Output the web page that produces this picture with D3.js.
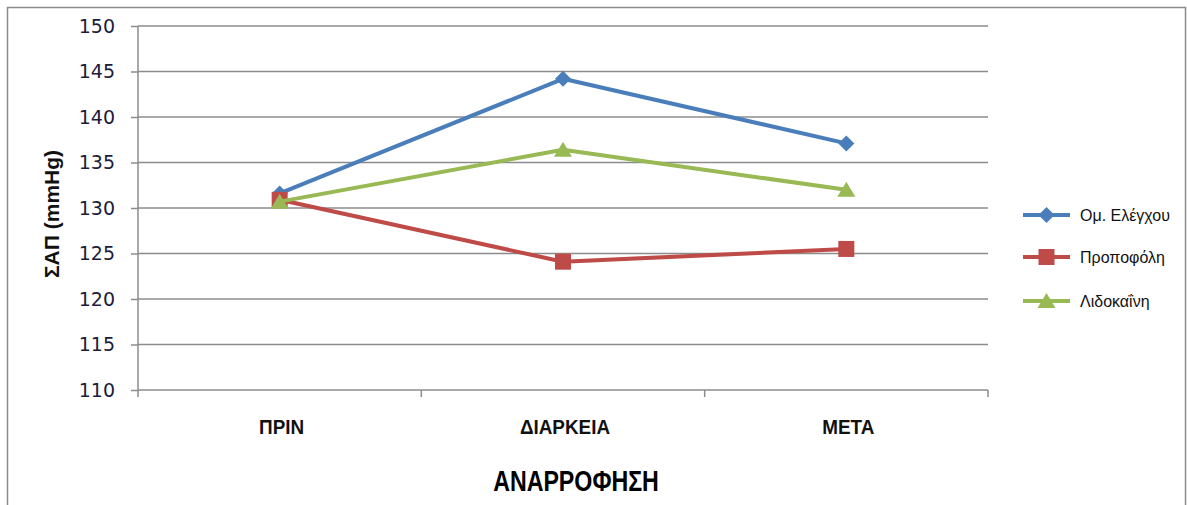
<!DOCTYPE html>
<html>
<head>
<meta charset="utf-8">
<script src="https://cdn.jsdelivr.net/npm/d3@7"></script>
<style>
  html, body { margin: 0; padding: 0; background: #fff; }
  svg { display: block; }
</style>
</head>
<body>
<svg id="chart" width="1187" height="505"></svg>
<script>
// Systolic arterial pressure across the three phases of suction
const categories = ["ΠΡΙΝ", "ΔΙΑΡΚΕΙΑ", "ΜΕΤΑ"];
const seriesNames = ["Ομ. Ελέγχου", "Προποφόλη", "Λιδοκαΐνη"];
const controlValues = [131.6, 144.2, 137.1];
const propofolValues = [130.9, 124.1, 125.5];
const lidocaineValues = [130.7, 136.4, 132.0];
const yTicks = [110, 115, 120, 125, 130, 135, 140, 145, 150];
const yTitle = "ΣΑΠ (mmHg)";
const xTitle = "ΑΝΑΡΡΟΦΗΣΗ";

const series = [
  { name: seriesNames[0], values: controlValues, color: "#4a7ebb", symbol: "diamond" },
  { name: seriesNames[1], values: propofolValues, color: "#be4b48", symbol: "square" },
  { name: seriesNames[2], values: lidocaineValues, color: "#98b954", symbol: "triangle" }
];

const FONT = "'Liberation Sans', Arial, sans-serif";
const svg = d3.select("#chart");
const margin = { left: 138, top: 26, right: 988, bottom: 390 };

// condensed text: horizontally squeezed sans
function narrowText(parent, x, y, size, squeeze, txt, weight, anchor) {
  return parent.append("text")
    .attr("transform", `translate(${x},${y}) scale(${squeeze},1)`)
    .attr("text-anchor", anchor || "middle")
    .attr("font-family", FONT)
    .attr("font-size", size)
    .attr("font-weight", weight || "bold")
    .attr("fill", "#111")
    .text(txt);
}

// outer frame
svg.append("rect")
  .attr("x", 7.5).attr("y", 7.5)
  .attr("width", 1178).attr("height", 510)
  .attr("fill", "#fff").attr("stroke", "#8c8c8c").attr("stroke-width", 1.5);

const x = d3.scaleBand().domain(categories).range([margin.left, margin.right]);
const y = d3.scaleLinear().domain([110, 150]).range([margin.bottom, margin.top]);

// horizontal gridlines
svg.append("g").selectAll("line").data(yTicks.filter(t => t !== 110)).join("line")
  .attr("x1", margin.left).attr("x2", margin.right)
  .attr("y1", d => y(d)).attr("y2", d => y(d))
  .attr("stroke", "#8c8c8c").attr("stroke-width", 1.5);

// y axis
const yAxis = svg.append("g")
  .attr("transform", `translate(${margin.left},0)`)
  .call(d3.axisLeft(y).tickValues(yTicks).tickSize(7).tickPadding(16).tickFormat(d3.format("d")));
yAxis.select(".domain").attr("stroke", "#8c8c8c").attr("stroke-width", 1.5).attr("d", `M0,${margin.top}V${margin.bottom + 1}`);
yAxis.selectAll(".tick line").attr("stroke", "#8c8c8c").attr("stroke-width", 1.5);
yAxis.selectAll(".tick text")
  .attr("font-family", "'DejaVu Sans', Verdana, sans-serif")
  .attr("font-size", 19).attr("fill", "#1c1c3a");

// x axis with ticks at category boundaries
const xAxis = svg.append("g").attr("transform", `translate(0,${margin.bottom})`);
xAxis.append("line")
  .attr("x1", margin.left).attr("x2", margin.right)
  .attr("stroke", "#8c8c8c").attr("stroke-width", 1.5);
const bounds = categories.map(c => x(c)).concat([margin.right]);
xAxis.selectAll("line.tk").data(bounds).join("line").attr("class", "tk")
  .attr("x1", d => d).attr("x2", d => d).attr("y1", 0).attr("y2", 7)
  .attr("stroke", "#8c8c8c").attr("stroke-width", 1.5);
categories.forEach(c => {
  narrowText(xAxis, x(c) + x.bandwidth() / 2 + 2, 44, 21, 0.9, c);
});

// axis titles
narrowText(svg, 576, 491, 29, 0.8, xTitle).attr("fill", "#000");
svg.append("text")
  .attr("transform", "translate(59,214) rotate(-90)")
  .attr("text-anchor", "middle")
  .attr("font-family", FONT)
  .attr("font-size", 21).attr("font-weight", "bold").attr("fill", "#111")
  .text(yTitle);

// marker shapes
const markerPath = {
  diamond: "M0,-8L8,0L0,8L-8,0Z",
  square: "M-8,-8H8V8H-8Z",
  triangle: "M0,-8L9,7H-9Z"
};
function marker(sel, s) {
  sel.attr("d", markerPath[s.symbol]).attr("fill", s.color);
}

const line = d3.line()
  .x((d, i) => x(categories[i]) + x.bandwidth() / 2)
  .y(d => y(d));

series.forEach(s => {
  const g = svg.append("g");
  g.append("path").attr("d", line(s.values))
    .attr("fill", "none").attr("stroke", s.color).attr("stroke-width", 4)
    .attr("stroke-linejoin", "round");
  g.selectAll("path.m").data(s.values).join("path").attr("class", "m")
    .attr("transform", (d, i) => `translate(${x(categories[i]) + x.bandwidth() / 2},${y(d)})`)
    .call(sel => marker(sel, s));
});

// legend
const legend = svg.append("g");
const legendY = [215, 257, 301];
series.forEach((s, i) => {
  const g = legend.append("g").attr("transform", `translate(1023,${legendY[i]})`);
  g.append("line").attr("x1", 0).attr("x2", 47)
    .attr("stroke", s.color).attr("stroke-width", 4);
  g.append("path").attr("transform", "translate(23.5,0)").call(sel => marker(sel, s));
  narrowText(g, 57, 6, 16.5, 0.97, s.name, "normal", "start");
});
</script>
</body>
</html>
